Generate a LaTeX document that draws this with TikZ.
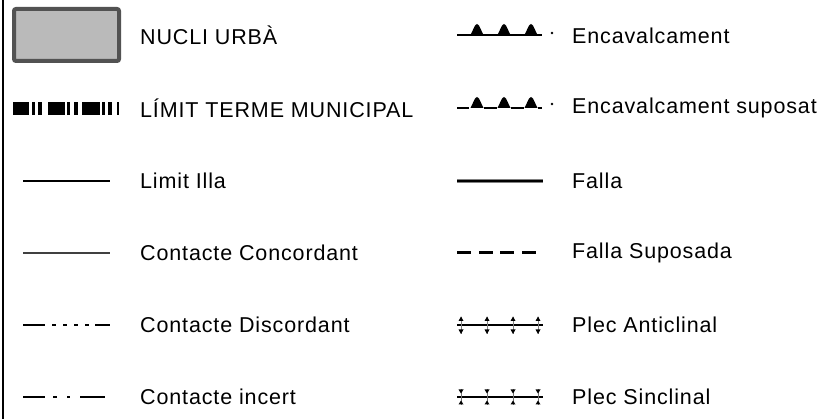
\documentclass[tikz,border=0pt]{standalone}
\usepackage{fontspec}
\setmainfont{Liberation Sans}[LetterSpace=4]
\begin{document}
\begin{tikzpicture}[x=1pt,y=-1pt,font=\fontsize{21.5}{24}\selectfont,
  lbl/.style={anchor=west,inner sep=0pt},
  tri/.style={fill=black},
  lin/.style={line width=1.6pt,draw=black}]
  \useasboundingbox (0,0) rectangle (833,419);
  \draw[line width=2.5pt] (3,0) -- (3,419);
  % columna esquerra
  \draw[line width=4pt,draw=black!68,fill=black!27,rounded corners=2pt] (14,9) rectangle (119,61);
  \node[lbl] (nucli) at (140,35){NUCLI URBÀ};
  \foreach \a/\b in {13/29,32/35,38/42,48/65,67/70,74/78,82/100,102/105,108/112,117/119}
    \fill (\a,102) rectangle (\b,115);
  \node[lbl] (limit) at (140,108){LÍMIT TERME MUNICIPAL};
  \draw[lin] (23,181) -- (110,181);
  \node[lbl] (illa) at (140,181){Limit Illa};
  \draw[lin,draw=black!75,line width=2pt] (23,253) -- (110,253);
  \node[lbl] (concord) at (140,253){Contacte Concordant};
  \foreach \a/\b in {23/45,52/56,63/67,74/78,85/89,95/110}
    \draw[lin] (\a,325) -- (\b,325);
  \node[lbl] (discord) at (140,325){Contacte Discordant};
  \foreach \a/\b in {23/45,53/57,67/70,80/105}
    \draw[lin] (\a,397) -- (\b,397);
  \node[lbl] (incert) at (140,397){Contacte incert};
  % columna dreta
  \draw[lin,line width=2pt] (457,35) -- (542,35);
  \foreach \x in {477,504,531}
    \fill[tri] (\x-6.5,35) -- (\x-2,25.5) -- (\x,24) -- (\x+2,25.5) -- (\x+6.5,35) -- cycle;
  \fill (552,33) circle (1.3pt);
  \node[lbl] (encav) at (572,36){Encavalcament};
  \foreach \a/\b in {457/469,484/497,511/524,538/542}
    \draw[lin,line width=2pt] (\a,108) -- (\b,108);
  \foreach \x in {477,504,531}
    \fill[tri] (\x-6.5,108) -- (\x-2,98.5) -- (\x,97) -- (\x+2,98.5) -- (\x+6.5,108) -- cycle;
  \fill (552,104) circle (1.3pt);
  \node[lbl] (encavsup) at (572,108){Encavalcament suposat};
  \draw[line width=4pt,draw=black!50] (457,181) -- (543,181);
  \draw[line width=1.2pt] (457,181) -- (543,181);
  \node[lbl] (falla) at (572,181){Falla};
  \foreach \a in {457,479,500,522}
    \draw[line width=3pt] (\a,253) -- ++(14,0);
  \node[lbl] (fallasup) at (572,253){Falla Suposada};
  \draw[lin,line width=1.3pt] (457,325) -- (543,325);
  \foreach \x in {461,487,513,538}{
    \draw[black!50,line width=0.8pt] (\x,317) -- (\x,334);
    \fill (\x-2.5,321) -- (\x,316.5) -- (\x+2.5,321) -- cycle;
    \fill (\x-2.5,329.5) -- (\x,334) -- (\x+2.5,329.5) -- cycle;}
  \node[lbl] (anticl) at (572,325){Plec Anticlinal};
  \draw[lin,line width=1.3pt] (457,397) -- (543,397);
  \foreach \x in {461,487,513,538}{
    \draw[black!55,line width=1pt] (\x,389) -- (\x,405);
    \fill (\x-2.5,389.5) -- (\x,393.5) -- (\x+2.5,389.5) -- cycle;
    \fill (\x-2.5,404.5) -- (\x,400.5) -- (\x+2.5,404.5) -- cycle;}
  \node[lbl] (sincl) at (572,397){Plec Sinclinal};
\end{tikzpicture}
\end{document}
